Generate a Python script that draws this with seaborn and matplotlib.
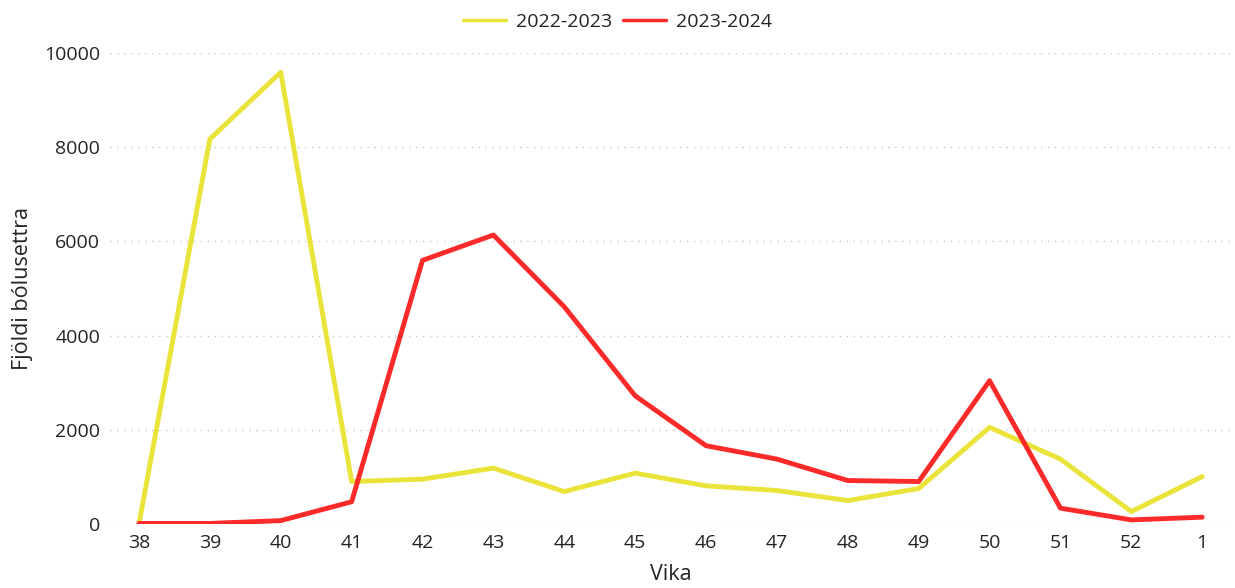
import pandas as pd
import matplotlib.pyplot as plt
import seaborn as sns

# Weeks and vaccination counts per season
weeks = ["38", "39", "40", "41", "42", "43", "44", "45", "46", "47", "48", "49", "50", "51", "52", "1"]
season_2022 = [0, 8170, 9590, 900, 950, 1185, 687, 1078, 808, 709, 496, 751, 2050, 1376, 262, 1006]
season_2023 = [10, 10, 70, 470, 5596, 6134, 4610, 2720, 1660, 1376, 921, 900, 3040, 334, 85, 143]
seasons = ["2022-2023", "2023-2024"]
colors = ["#EAE43A", "#FD2A2A"]

df = pd.DataFrame({
    "Vika": weeks * 2,
    "Fjöldi bólusettra": season_2022 + season_2023,
    "Tímabil": [seasons[0]] * len(weeks) + [seasons[1]] * len(weeks),
})

sns.set_style("white")
plt.rcParams["font.family"] = ["Open Sans", "DejaVu Sans"]
text_color = "#252423"

fig = plt.figure(figsize=(12.35, 5.88), dpi=100)
ax = fig.add_axes([0.089, 0.109, 0.908, 0.801])
sns.lineplot(
    data=df, x="Vika", y="Fjöldi bólusettra", hue="Tímabil",
    palette=colors, linewidth=3.5, sort=False, ax=ax,
)

ax.set_ylim(0, 10000)
ax.set_xlim(-0.41, len(weeks) - 1 + 0.41)
ax.set_yticks([0, 2000, 4000, 6000, 8000, 10000])
ax.yaxis.grid(True, linestyle=(0, (1, 4)), color="#c8c8c8", linewidth=1)
ax.set_axisbelow(True)
ax.tick_params(axis="both", labelsize=14, colors=text_color, length=0, pad=7)
ax.set_xlabel("Vika", fontsize=15.5, color=text_color, labelpad=9)
ax.set_ylabel("Fjöldi bólusettra", fontsize=15.5, color=text_color, labelpad=8)
for s in ax.spines.values():
    s.set_visible(False)

handles, labels = ax.get_legend_handles_labels()
ax.legend_.remove()
leg = fig.legend(
    handles, labels, loc="upper center", bbox_to_anchor=(0.5, 0.998), ncol=2,
    frameon=False, fontsize=14, handlelength=2.2, handletextpad=0.5,
    columnspacing=0.6, borderaxespad=0.2,
)
for line in leg.get_lines():
    line.set_linewidth(2.5)
for t in leg.get_texts():
    t.set_color(text_color)

plt.savefig("out.png", dpi=100)
